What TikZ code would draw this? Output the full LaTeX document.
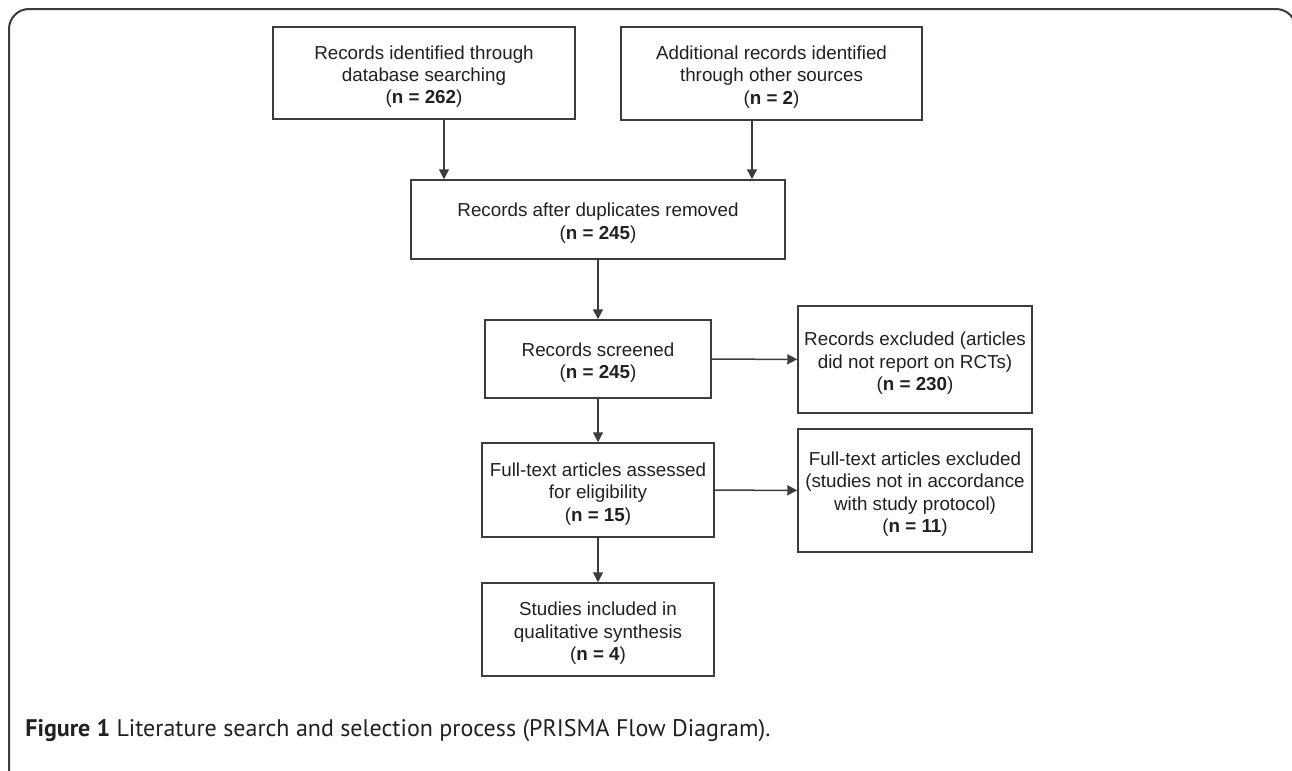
\documentclass[tikz,border=0pt]{standalone}
\usepackage{fontspec}
\setmainfont{Liberation Sans}
\newfontfamily\capfont{PT Sans}
\usetikzlibrary{arrows.meta}
\definecolor{ink}{HTML}{231F20}
\definecolor{frame}{HTML}{3C3C3C}
\newcommand\boxtext[1]{\raisebox{-2pt}[\height][\depth]{\begin{tabular}{@{}c@{}}#1\end{tabular}}}
\tikzset{
  box/.style={draw=frame, line width=0.75pt, inner sep=0pt, align=center, text=ink,
    font=\fontsize{9.4pt}{11.25pt}\selectfont},
  arr/.style={draw=frame, line width=0.75pt, -{Triangle[length=5pt,width=5pt]}},
}
\begin{document}
\begin{tikzpicture}[x=0.5pt,y=-0.5pt]
\useasboundingbox (0,0) rectangle (1292,771);
\begin{scope}
\clip (0,0) rectangle (1292,771);
\draw[frame, line width=1pt, rounded corners=10pt] (9,790) -- (9,9) -- (1296,9) -- (1296,40);
\end{scope}

\node[box, minimum width=151pt, minimum height=46pt] (db) at (424,73) {\boxtext{Records identified through\\database searching\\(\textbf{n = 262})}};
\node[box, minimum width=150.5pt, minimum height=46.5pt] (other) at (771.5,73.5) {\boxtext{Additional records identified\\through other sources\\(\textbf{n = 2})}};
\node[box, minimum width=187pt, minimum height=39.5pt] (dup) at (598,219.5) {\boxtext{Records after duplicates removed\\(\textbf{n = 245})}};
\node[box, minimum width=113pt, minimum height=39pt] (scr) at (598,359) {\boxtext{Records screened\\(\textbf{n = 245})}};
\node[box, minimum width=117pt, minimum height=53.5pt] (exc) at (915,359.5) {\boxtext{Records excluded (articles\\did not report on RCTs)\\(\textbf{n = 230})}};
\node[box, minimum width=116pt, minimum height=47pt] (full) at (598,490) {\boxtext{Full-text articles assessed\\for eligibility\\(\textbf{n = 15})}};
\node[box, minimum width=117pt, minimum height=61.5pt] (fexc) at (915,490.5) {\boxtext{Full-text articles excluded\\(studies not in accordance\\with study protocol)\\(\textbf{n = 11})}};
\node[box, minimum width=116pt, minimum height=46.5pt] (incl) at (598,629.5) {\boxtext{Studies included in\\qualitative synthesis\\(\textbf{n = 4})}};

\draw[arr] (db.south -| 444,0) -- (dup.north -| 444,0);
\draw[arr] (other.south -| 752,0) -- (dup.north -| 752,0);
\draw[arr] (dup) -- (scr);
\draw[arr] (scr) -- (exc);
\draw[arr] (scr) -- (full);
\draw[arr] (full) -- (fexc);
\draw[arr] (full) -- (incl);

\node[anchor=base west, inner sep=0pt, text=ink, font=\capfont\fontsize{12pt}{13pt}\selectfont] (cap) at (25,736) {\textbf{Figure 1} Literature search and selection process (PRISMA Flow Diagram).};
\end{tikzpicture}
\end{document}
